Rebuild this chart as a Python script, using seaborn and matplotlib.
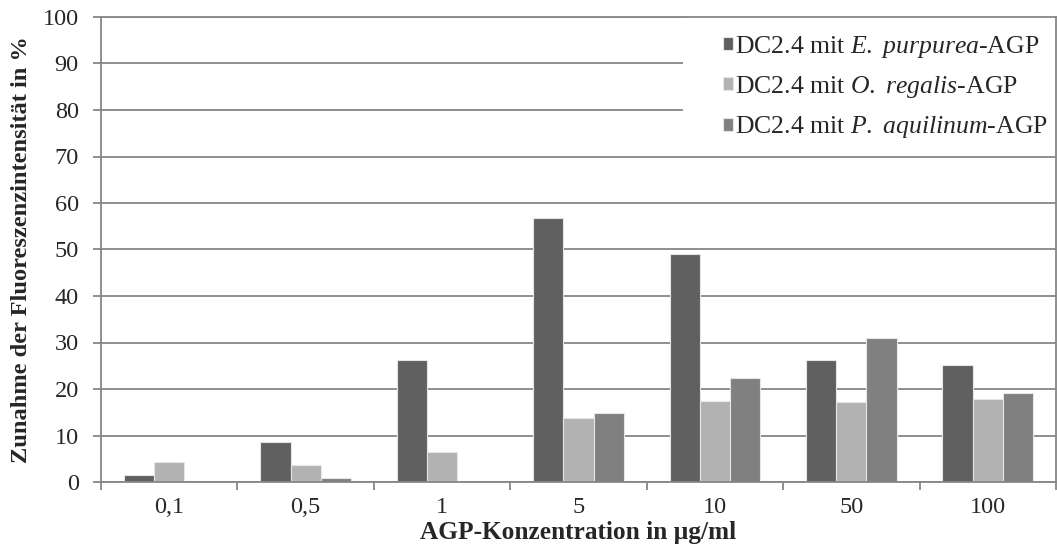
import matplotlib
matplotlib.use("Agg")
import matplotlib.pyplot as plt
from matplotlib.patches import Rectangle
import numpy as np
import pandas as pd
import seaborn as sns

# values
konzentration = ["0,1", "0,5", "1", "5", "10", "50", "100"]
e_purpurea = [1.5, 8.7, 26.2, 56.7, 49.0, 26.2, 25.1]
o_regalis = [4.2, 3.6, 6.5, 13.8, 17.5, 17.2, 17.8]
p_aquilinum = [0.0, 0.8, 0.0, 14.8, 22.4, 31.0, 19.1]

serien = [
    "DC2.4 mit $\\it{E.}$ $\\it{purpurea}$-AGP",
    "DC2.4 mit $\\it{O.}$ $\\it{regalis}$-AGP",
    "DC2.4 mit $\\it{P.}$ $\\it{aquilinum}$-AGP",
]
farben = ["#606060", "#b2b2b2", "#808080"]

df = pd.DataFrame({
    "konz": konzentration * 3,
    "wert": e_purpurea + o_regalis + p_aquilinum,
    "serie": [serien[0]] * 7 + [serien[1]] * 7 + [serien[2]] * 7,
})

sns.set_style("white")
plt.rcParams["font.family"] = ["Liberation Serif", "DejaVu Serif"]
plt.rcParams["mathtext.fontset"] = "custom"
plt.rcParams["mathtext.rm"] = "Liberation Serif"
plt.rcParams["mathtext.it"] = "Liberation Serif:italic"

fig = plt.figure(figsize=(10.57, 5.59), dpi=100)
ax = fig.add_axes([101 / 1057, 1 - 482 / 559, 955 / 1057, 465 / 559])

sns.barplot(data=df, x="konz", y="wert", hue="serie", order=konzentration,
            hue_order=serien, palette=farben, width=0.665, ax=ax,
            edgecolor="#e6e6e6", linewidth=0.8, errorbar=None, saturation=1)

grau = "#868686"
ax.set_ylim(0, 100)
ax.set_xlim(-0.5, len(konzentration) - 0.5)
ax.set_yticks(np.arange(0, 101, 10))
ax.yaxis.grid(True, color=grau, linewidth=1.3)
ax.set_axisbelow(True)

for s in ["left", "bottom", "right", "top"]:
    ax.spines[s].set_color(grau)
    ax.spines[s].set_linewidth(1.3)
    ax.spines[s].set_zorder(6)

ax.tick_params(axis="y", length=6, color=grau, width=1.3, labelsize=17.5, pad=10, left=True)
ax.tick_params(axis="x", which="major", length=0, labelsize=17.5, pad=11)
ax.set_xticks(np.arange(-0.5, len(konzentration)), minor=True)
ax.tick_params(axis="x", which="minor", length=6, color=grau, width=1.3, bottom=True)

ax.set_xlabel("AGP-Konzentration in µg/ml", fontsize=18.3, fontweight="bold")
ax.set_ylabel("Zunahme der Fluoreszenzintensität in %", fontsize=17.6, fontweight="bold")
ax.xaxis.set_label_coords(0.5, -0.083)
ax.yaxis.set_label_coords(-0.072, 0.5)

# white legend area covering the gridlines, as in the original
ax.add_patch(Rectangle((0.609, 0.725), 0.391, 0.275, transform=ax.transAxes,
                       facecolor="white", edgecolor="none", zorder=4))

leg = ax.legend(loc="upper right", bbox_to_anchor=(1.0, 0.98), fontsize=18.5,
                frameon=False, handlelength=0.4, handleheight=0.4,
                handletextpad=0.1, labelspacing=0.55, borderpad=0.3, borderaxespad=0)

fig.savefig("out.png", dpi=100)
